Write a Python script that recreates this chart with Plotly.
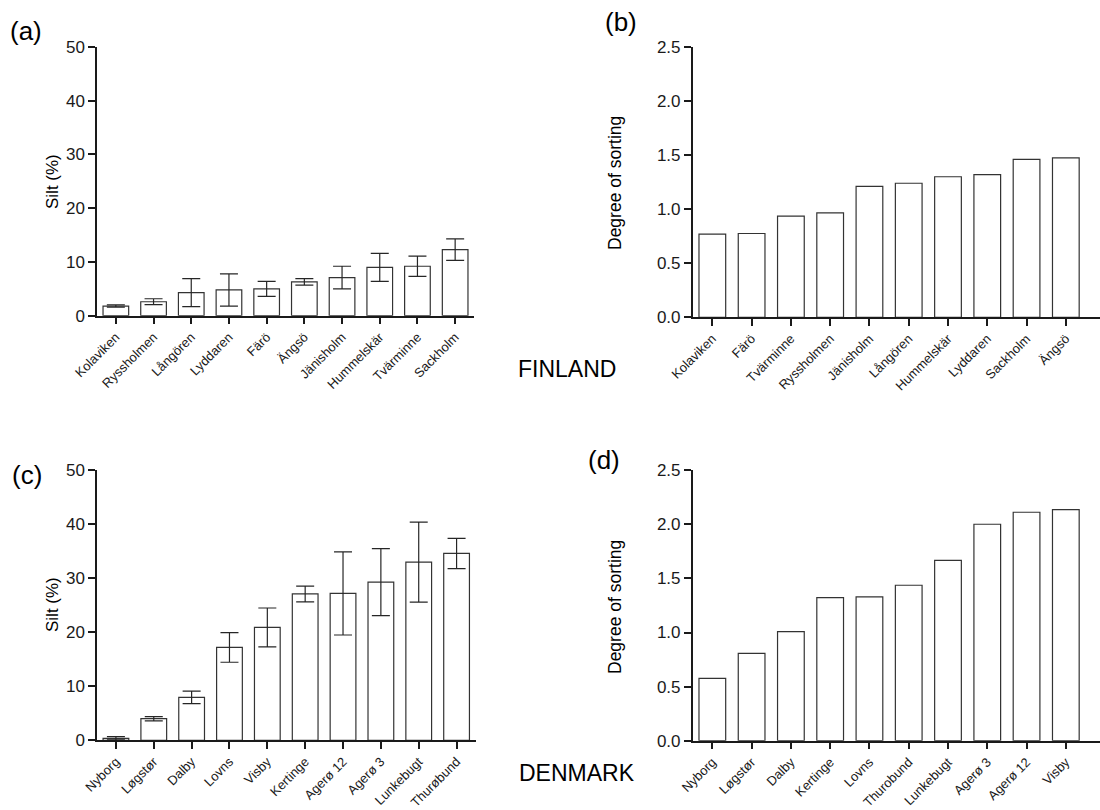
import plotly.graph_objects as go

# Finland: silt content (mean ± error), sorted by silt
fin_silt_sites = ["Kolaviken", "Ryssholmen", "Långören", "Lyddaren", "Färö",
                  "Ängsö", "Jänisholm", "Hummelskär", "Tvärminne", "Sackholm"]
fin_silt = [1.8, 2.6, 4.3, 4.8, 5.0, 6.3, 7.1, 9.0, 9.2, 12.3]
fin_silt_err = [0.2, 0.55, 2.6, 3.0, 1.4, 0.6, 2.1, 2.6, 1.9, 2.0]

# Finland: degree of sorting
fin_sort_sites = ["Kolaviken", "Färö", "Tvärminne", "Ryssholmen", "Jänisholm",
                  "Långören", "Hummelskär", "Lyddaren", "Sackholm", "Ängsö"]
fin_sort = [0.77, 0.775, 0.935, 0.965, 1.21, 1.24, 1.30, 1.32, 1.46, 1.475]

# Denmark: silt content (mean ± error)
den_silt_sites = ["Nyborg", "Løgstør", "Dalby", "Lovns", "Visby",
                  "Kertinge", "Agerø 12", "Agerø 3", "Lunkebugt", "Thurøbund"]
den_silt = [0.37, 4.0, 7.96, 17.2, 20.9, 27.1, 27.2, 29.3, 33.0, 34.6]
den_silt_err = [0.3, 0.4, 1.15, 2.75, 3.6, 1.45, 7.7, 6.2, 7.4, 2.8]

# Denmark: degree of sorting
den_sort_sites = ["Nyborg", "Løgstør", "Dalby", "Kertinge", "Lovns",
                  "Thurobund", "Lunkebugt", "Agerø 3", "Agerø 12", "Visby"]
den_sort = [0.576, 0.808, 1.008, 1.323, 1.329, 1.437, 1.668, 2.001, 2.112, 2.137]

W, H = 1100, 810
FONT = "Arial, Liberation Sans, sans-serif"
INK = "#1a1a1a"


def px_x(a, b):
    return [a / W, b / W]


def px_y(top, bottom):
    return [1 - bottom / H, 1 - top / H]


bar_style = dict(marker=dict(color="white", line=dict(color="#333333", width=1.2)),
                 width=0.68, showlegend=False, hoverinfo="x+y")
err_style = dict(type="data", color="#262626", thickness=1.2, width=9)

fig = go.Figure()
fig.add_trace(go.Bar(x=fin_silt_sites, y=fin_silt, xaxis="x", yaxis="y",
                     error_y=dict(array=fin_silt_err, **err_style), **bar_style))
fig.add_trace(go.Bar(x=fin_sort_sites, y=fin_sort, xaxis="x2", yaxis="y2", **bar_style))
fig.add_trace(go.Bar(x=den_silt_sites, y=den_silt, xaxis="x3", yaxis="y3",
                     error_y=dict(array=den_silt_err, **err_style), **bar_style))
fig.add_trace(go.Bar(x=den_sort_sites, y=den_sort, xaxis="x4", yaxis="y4", **bar_style))

xcommon = dict(type="category", showline=True, linecolor=INK, linewidth=1.5,
               ticks="outside", ticklen=7, tickwidth=1.5, tickcolor=INK,
               tickangle=-45, tickfont=dict(family=FONT, size=13, color=INK),
               showgrid=False, zeroline=False, fixedrange=True, automargin=False)
ycommon = dict(showline=True, linecolor=INK, linewidth=1.5,
               ticks="outside", ticklen=7, tickwidth=1.5, tickcolor=INK,
               tickfont=dict(family=FONT, size=17, color=INK),
               showgrid=False, zeroline=False, fixedrange=True, automargin=False)

fig.update_layout(
    template="none",
    width=W, height=H,
    margin=dict(l=0, r=0, t=0, b=0, autoexpand=False),
    paper_bgcolor="white", plot_bgcolor="white",
    bargap=0.32,
    xaxis=dict(domain=px_x(97, 474), range=[-0.5, 9.5], anchor="y", **xcommon),
    yaxis=dict(domain=px_y(47, 315.7), range=[0, 50], dtick=10, anchor="x", **ycommon),
    xaxis2=dict(domain=px_x(692.7, 1100), range=[-0.5, 9.87], anchor="y2", **xcommon),
    yaxis2=dict(domain=px_y(47, 317.3), range=[0, 2.5], dtick=0.5, tickformat=".1f",
                anchor="x2", **ycommon),
    xaxis3=dict(domain=px_x(97, 475.5), range=[-0.5, 9.5], anchor="y3", **xcommon),
    yaxis3=dict(domain=px_y(470.3, 740.3), range=[0, 50], dtick=10, anchor="x3", **ycommon),
    xaxis4=dict(domain=px_x(692.7, 1100), range=[-0.5, 9.87], anchor="y4", **xcommon),
    yaxis4=dict(domain=px_y(470.3, 740.7), range=[0, 2.5], dtick=0.5, tickformat=".1f",
                anchor="x4", **ycommon),
)


def label(text, x, y, size, angle=0):
    fig.add_annotation(text=text, x=x / W, y=1 - y / H, xref="paper", yref="paper",
                       showarrow=False, textangle=angle, xanchor="center", yanchor="middle",
                       font=dict(family=FONT, size=size, color="black"))


# panel letters
label("(a)", 26, 31, 26)
label("(b)", 621, 22, 26)
label("(c)", 27, 475, 26)
label("(d)", 604, 460, 26)

# axis titles
label("Silt (%)", 52, 182, 17, -90)
label("Degree of sorting", 615, 183, 17.5, -90)
label("Silt (%)", 52, 605, 17, -90)
label("Degree of sorting", 615, 607, 17.5, -90)

# country names
label("FINLAND", 567, 369, 23)
label("DENMARK", 577, 773, 23)

fig.write_html("out.html")
